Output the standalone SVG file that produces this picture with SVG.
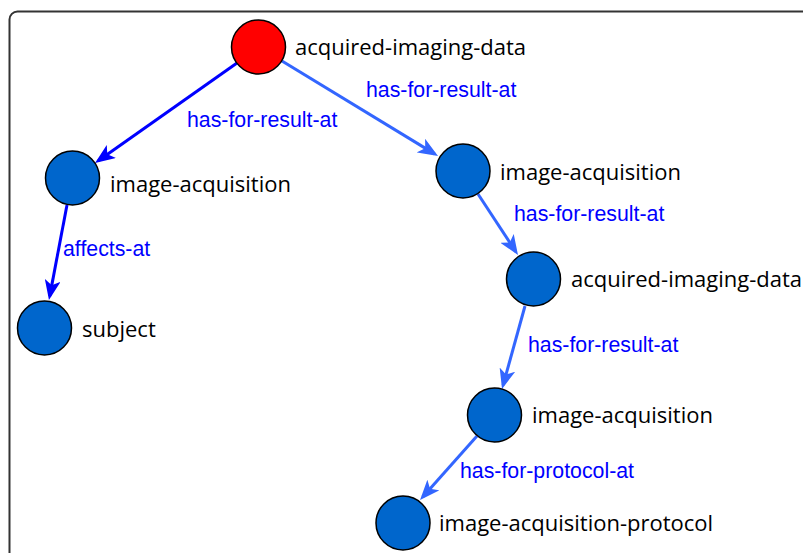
<svg xmlns="http://www.w3.org/2000/svg" width="803" height="553" viewBox="0 0 803 553">
<style>
.node circle{stroke:#000;stroke-width:1.5}
.blue{fill:#0066CC}
.red{fill:#FF0000}
.nl{font-family:"Open Sans","Noto Sans",sans-serif;font-size:22px;fill:#000}
.el{font-family:"Liberation Sans",Arial,sans-serif;font-size:21.3px;fill:#0000FF}
.e1{stroke:#0000FF;stroke-width:3;fill:none}
.e2{stroke:#3366FF;stroke-width:3;fill:none}
</style>
<defs>
<marker id="ad" markerUnits="userSpaceOnUse" markerWidth="20" markerHeight="16" refX="16" refY="8" orient="auto" viewBox="0 0 20 16">
<path d="M0,0 L20,8 L0,16 L5,8 z" fill="#0000FF"/>
</marker>
<marker id="al" markerUnits="userSpaceOnUse" markerWidth="20" markerHeight="16" refX="16" refY="8" orient="auto" viewBox="0 0 20 16">
<path d="M0,0 L20,8 L0,16 L5,8 z" fill="#3366FF"/>
</marker>
</defs>
<rect x="9.5" y="11.5" width="820" height="560" rx="8" fill="none" stroke="#333" stroke-width="2"/>
<g id="connectors">
<line class="e1" x1="237" y1="63" x2="98.3" y2="160.7" marker-end="url(#ad)"/>
<line class="e2" x1="282" y1="61" x2="434.6" y2="153.9" marker-end="url(#al)"/>
<line class="e1" x1="67" y1="205" x2="49.7" y2="296.1" marker-end="url(#ad)"/>
<line class="e2" x1="478" y1="194" x2="515.8" y2="251.7" marker-end="url(#al)"/>
<line class="e2" x1="525" y1="306" x2="503.1" y2="385.1" marker-end="url(#al)"/>
<line class="e2" x1="477" y1="436" x2="422.7" y2="497" marker-end="url(#al)"/>
<text class="el" x="187" y="127">has-for-result-at</text>
<text class="el" x="366" y="97">has-for-result-at</text>
<text class="el" x="63" y="256">affects-at</text>
<text class="el" x="514" y="221">has-for-result-at</text>
<text class="el" x="528" y="352">has-for-result-at</text>
<text class="el" x="460" y="478">has-for-protocol-at</text>
</g>
<g id="n1" class="node"><circle class="red" cx="258.5" cy="47" r="27"/><text class="nl" x="295" y="55">acquired-imaging-data</text></g>
<g id="n2" class="node"><circle class="blue" cx="72.5" cy="178" r="27"/><text class="nl" x="110" y="192">image-acquisition</text></g>
<g id="n3" class="node"><circle class="blue" cx="44.5" cy="328" r="27"/><text class="nl" x="82" y="337">subject</text></g>
<g id="n4" class="node"><circle class="blue" cx="463" cy="171" r="27"/><text class="nl" x="500" y="180">image-acquisition</text></g>
<g id="n5" class="node"><circle class="blue" cx="533.5" cy="279" r="27"/><text class="nl" x="571" y="287">acquired-imaging-data</text></g>
<g id="n6" class="node"><circle class="blue" cx="494.5" cy="415" r="27"/><text class="nl" x="532" y="423">image-acquisition</text></g>
<g id="n7" class="node"><circle class="blue" cx="403" cy="523" r="27"/><text class="nl" x="439" y="531">image-acquisition-protocol</text></g>
</svg>
